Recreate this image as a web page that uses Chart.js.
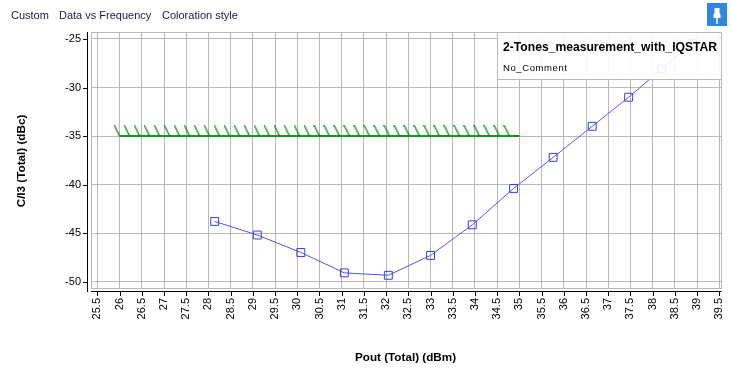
<!DOCTYPE html>
<html>
<head>
<meta charset="utf-8">
<style>
  html, body { margin: 0; padding: 0; background: #fff; overflow: hidden; }
  #wrap { position: relative; width: 732px; height: 374px; font-family: "Liberation Sans", Arial, sans-serif; }
  #grafico { position: absolute; left: 0; top: 0; }
  .menu { position: absolute; top: 9px; font-size: 11px; color: #1c1c3c; }
  #pin { position: absolute; left: 707px; top: 3px; width: 20px; height: 23px; background: #2f86e0; }
  #info { position: absolute; left: 497px; top: 33px; width: 223px; height: 46px; background: rgba(255,255,255,0.9); border-left: 1px solid #b9b9b9; border-right: 1px solid #b9b9b9; border-bottom: 1px solid #b9b9b9; }
  #info b { position: absolute; left: 5px; top: 7px; font-size: 12.15px; color: #000; white-space: nowrap; }
  #info span { position: absolute; left: 5px; top: 29px; font-size: 9.5px; letter-spacing: 0.6px; color: #000; white-space: nowrap; }
</style>
</head>
<body>
<div id="wrap">
  <canvas id="grafico" width="732" height="374"></canvas>
  <div class="menu" style="left:11px">Custom</div>
  <div class="menu" style="left:59px">Data vs Frequency</div>
  <div class="menu" style="left:162px">Coloration style</div>
  <div id="pin">
    <svg width="20" height="23" viewBox="0 0 20 23"><path d="M7.5 5h5v5l1 1.5V15h-7v-3.5l1-1.5z" fill="#fff"/><rect x="9" y="15" width="2" height="6" fill="#cfe3f8"/></svg>
  </div>
  <div id="info"><b>2-Tones_measurement_with_IQSTAR</b><span>No_Comment</span></div>
</div>
<script src="https://cdn.jsdelivr.net/npm/chart.js@4"></script>
<script>
const pout = [28.14, 29.1, 30.08, 31.06, 32.05, 33, 33.94, 34.87, 35.76, 36.64, 37.46, 38.2, 38.9];
const ci3 = [-43.8, -45.2, -47, -49.1, -49.35, -47.3, -44.15, -40.4, -37.2, -34, -31, -28.1, -25.4];
const limitX = [26, 35];
const limitY = [-35, -35];
const hatchX = [26, 26.225, 26.45, 26.675, 26.9, 27.125, 27.35, 27.575, 27.8, 28.025,
  28.25, 28.475, 28.7, 28.925, 29.15, 29.375, 29.6, 29.825, 30.05, 30.275,
  30.5, 30.725, 30.95, 31.175, 31.4, 31.625, 31.85, 32.075, 32.3, 32.525,
  32.75, 32.975, 33.2, 33.425, 33.65, 33.875, 34.1, 34.325, 34.55, 34.775];
const xTicks = [25.5, 26, 26.5, 27, 27.5, 28, 28.5, 29, 29.5, 30, 30.5, 31, 31.5, 32, 32.5, 33, 33.5, 34, 34.5, 35, 35.5, 36, 36.5, 37, 37.5, 38, 38.5, 39, 39.5];
const yTicks = [-25, -30, -35, -40, -45, -50];
const xTitle = "Pout (Total) (dBm)";
const yTitle = "C/I3 (Total) (dBc)";

const grid = "#b9b9b9";
const fuente = '"Liberation Sans", Arial, sans-serif';

// Raya del limite: el punto de la imagen queda en su extremo inferior derecho
function hatchMark() {
  const c = document.createElement("canvas");
  c.width = 12;
  c.height = 24;
  const g = c.getContext("2d");
  g.strokeStyle = "#008000";
  g.lineWidth = 1.2;
  g.beginPath();
  g.moveTo(0.5, 1);
  g.lineTo(6, 12);
  g.stroke();
  return c;
}

// Ejes negros separados del area del grafico
const ejesNegros = {
  id: "ejesNegros",
  afterDraw(chart) {
    const { ctx, chartArea: a, scales } = chart;
    ctx.save();
    ctx.strokeStyle = grid;
    ctx.lineWidth = 1;
    ctx.strokeRect(Math.round(a.left) + 0.5, Math.round(a.top) + 0.5, Math.floor(a.width), Math.round(a.height));
    ctx.strokeStyle = "#000";
    ctx.beginPath();
    ctx.moveTo(87.5, a.top);
    ctx.lineTo(87.5, a.bottom + 4);
    ctx.moveTo(a.left, a.bottom + 3.5);
    ctx.lineTo(a.right, a.bottom + 3.5);
    yTicks.forEach((v) => {
      const y = Math.round(scales.y.getPixelForValue(v)) + 0.5;
      ctx.moveTo(83, y);
      ctx.lineTo(88, y);
    });
    xTicks.forEach((v) => {
      const x = Math.round(scales.x.getPixelForValue(v)) + 0.5;
      ctx.moveTo(x, a.bottom + 3);
      ctx.lineTo(x, a.bottom + 8);
    });
    ctx.stroke();
    ctx.fillStyle = "#000";
    ctx.font = "bold 11.7px " + fuente;
    ctx.textAlign = "center";
    ctx.textBaseline = "middle";
    ctx.fillText(xTitle, 405.5, 358);
    ctx.translate(22, 161);
    ctx.rotate(-Math.PI / 2);
    ctx.fillText(yTitle, 0, 0);
    ctx.restore();
  },
};

new Chart(document.getElementById("grafico"), {
  type: "scatter",
  data: {
    datasets: [
      {
        label: "hatch",
        data: hatchX.map((x) => ({ x, y: limitY[0] })),
        pointStyle: hatchMark(),
        showLine: false,
      },
      {
        label: "limit",
        data: limitX.map((x, i) => ({ x, y: limitY[i] })),
        showLine: true,
        borderColor: "#189a18",
        borderWidth: 2,
        pointRadius: 0,
      },
      {
        label: "C/I3",
        data: pout.map((x, i) => ({ x, y: ci3[i] })),
        showLine: true,
        borderColor: "#5555ee",
        borderWidth: 1,
        pointStyle: "rect",
        pointRadius: 5.6,
        pointBorderColor: "#3c3ce6",
        pointBorderWidth: 1,
        pointBackgroundColor: "rgba(0,0,0,0)",
      },
    ],
  },
  options: {
    responsive: false,
    animation: false,
    events: [],
    layout: { padding: { left: 0, top: 32, right: 10.5, bottom: 0 } },
    plugins: { legend: { display: false }, tooltip: { enabled: false } },
    scales: {
      x: {
        type: "linear",
        position: "bottom",
        min: 25.356,
        max: 39.55,
        afterBuildTicks: (s) => { s.ticks = xTicks.map((value) => ({ value })); },
        afterFit: (s) => { s.height = 86; s.paddingLeft = 0; s.paddingRight = 0; },
        grid: { color: grid, lineWidth: 1, drawTicks: false },
        border: { color: grid },
        ticks: {
          autoSkip: false,
          minRotation: 90,
          maxRotation: 90,
          padding: 10,
          color: "#000",
          font: { family: fuente, size: 11 },
          callback: (v) => String(v),
        },
      },
      y: {
        type: "linear",
        min: -50.66,
        max: -24.28,
        afterBuildTicks: (s) => { s.ticks = yTicks.map((value) => ({ value })); },
        afterFit: (s) => { s.width = 91; s.paddingTop = 0; s.paddingBottom = 0; },
        grid: { color: grid, lineWidth: 1, drawTicks: false },
        border: { color: grid },
        ticks: {
          padding: 10,
          color: "#000",
          font: { family: fuente, size: 11 },
          callback: (v) => String(v),
        },
      },
    },
  },
  plugins: [ejesNegros],
});
</script>
</body>
</html>
